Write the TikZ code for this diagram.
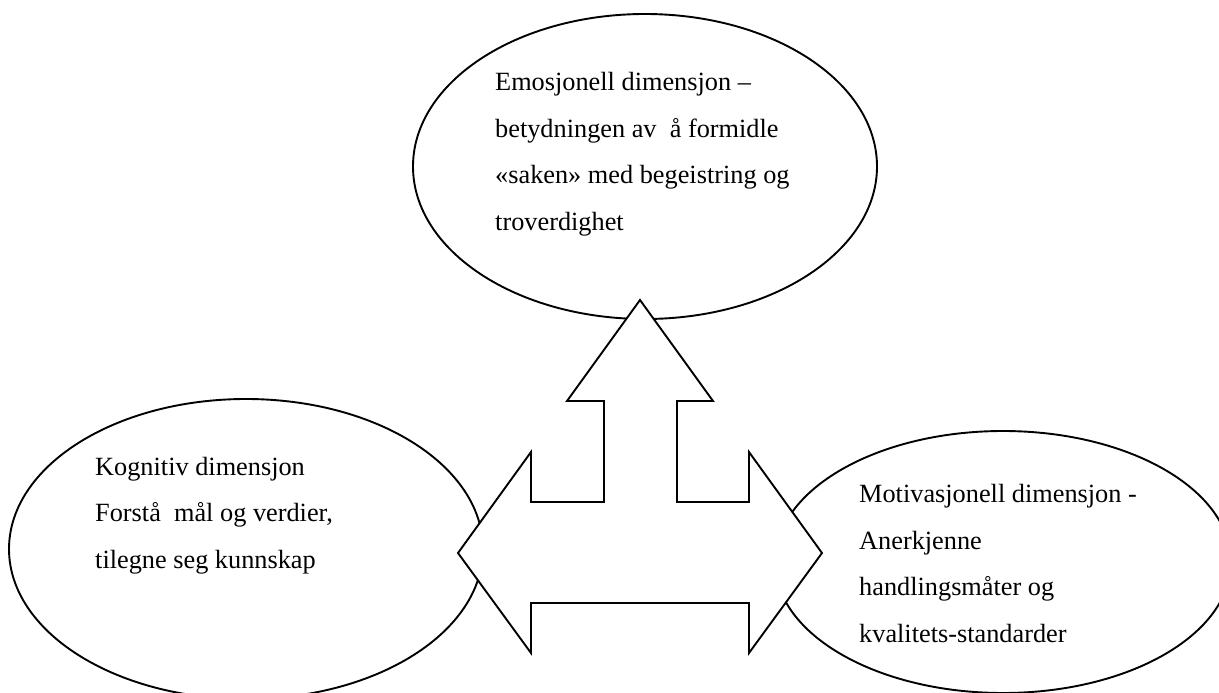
\documentclass[tikz,border=0pt]{standalone}
\usepackage{fontspec}
\setmainfont{Liberation Serif}
\usetikzlibrary{shapes.geometric}
\begin{document}
\begin{tikzpicture}[x=1pt,y=-1pt,
  bubble/.style={draw,ellipse,line width=1.9pt,inner sep=0pt},
  dimtext/.style={inner sep=0pt,anchor=base west,
    font=\fontsize{26.3}{46.5}\selectfont},
  bigarrow/.style={draw,fill=white,line width=1.9pt,line join=miter}]
\useasboundingbox (0,0) rectangle (1219,693);
\clip (0,0) rectangle (1219,693);
\fill[white] (0,0) rectangle (1219,693);
% ellipses
\node[bubble,minimum width=464pt,minimum height=305pt] (emo) at (645,166.5) {};
\node[bubble,minimum width=474pt,minimum height=300pt] (kog) at (246,549) {};
\node[bubble,minimum width=456pt,minimum height=262pt] (mot) at (1003,562) {};
% three-way arrow
\draw[bigarrow] (640,300) -- (713,401) -- (677,401) -- (677,502) -- (749,502)
  -- (749,452) -- (822,553) -- (749,653) -- (749,603) -- (531,603) -- (531,653)
  -- (458,553) -- (531,452) -- (531,502) -- (604,502) -- (604,401) -- (567,401)
  -- cycle;
% texts
\node[dimtext] (emotext) at (495,90.7) {\begin{tabular}[t]{@{}l@{}}Emosjonell dimensjon –\\betydningen av\ \ å formidle\\«saken» med begeistring og\\troverdighet\end{tabular}};
\node[dimtext] (kogtext) at (95,475) {\begin{tabular}[t]{@{}l@{}}Kognitiv dimensjon\\Forstå\ \ mål og verdier,\\tilegne seg kunnskap\end{tabular}};
\node[dimtext] (mottext) at (859,502.7) {\begin{tabular}[t]{@{}l@{}}Motivasjonell dimensjon -\\Anerkjenne\\handlingsmåter og\\kvalitets-standarder\end{tabular}};
\end{tikzpicture}
\end{document}
